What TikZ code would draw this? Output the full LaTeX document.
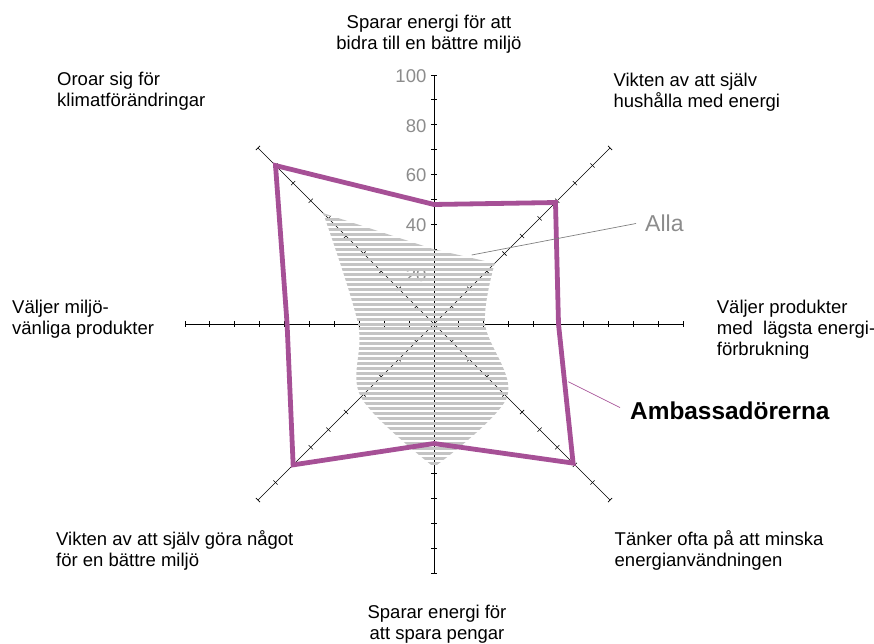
\documentclass[tikz,border=0pt]{standalone}
\usepackage{fontspec}
\setmainfont{Liberation Sans}
\usepackage{tikz}

\definecolor{ambpurple}{RGB}{166,80,150}
\definecolor{tickgray}{RGB}{140,140,140}
\definecolor{hatchgray}{RGB}{196,196,196}
\definecolor{leadgray}{RGB}{128,128,128}

\begin{document}
\begin{tikzpicture}[%
		x=1pt,
		y=1pt,
		font=\fontsize{18.5}{21}\selectfont,
		axis/.style={%
			line width=0.9pt
		},
		diagaxis/.style={%
			line width=0.6pt
		},
		ticklabel/.style={%
			anchor=east,
			inner sep=0pt,
			text=tickgray,
			yshift=-1pt
		},
		stripe/.style={%
			line width=3pt,
			draw=hatchgray
		},
		ambline/.style={%
			line width=4.8pt,
			draw=ambpurple
		},
		catlabel/.style={%
			inner sep=0pt,
			align=left,
			anchor=north west
		}
		]
		\useasboundingbox (-434,-319) rectangle (440,324);
		
		\begin{scope}[x=2.49pt,y=2.49pt]
			% axes with ticks
			\foreach \a in {0,90,180,270} {
				\draw[axis] (0,0) -- (\a:100);
				\foreach \r in {10,20,...,100}
					\draw[axis] (\a:\r) ++(\a+90:1.2) -- ++(\a-90:2.4);
			}
			\foreach \a in {45,135,225,315} {
				\draw[diagaxis] (0,0) -- (\a:100);
				\foreach \r in {10,20,...,100}
					\draw[diagaxis] (\a:\r) ++(\a+90:1.2) -- ++(\a-90:2.4);
			}
			\foreach \v in {20,40,...,100}
				\node[ticklabel] (t\v) at (-3,\v) {\v};
			
			% Alla
			\begin{scope}
				\clip plot[smooth, tension=0.55] coordinates {(45:34.5) (0:20.5) (-45:41.5) (-90:57.5)}
					-- plot[smooth, tension=0.55] coordinates {(-90:57.5) (-135:41.5) (180:30.5) (135:63)}
					-- (90:30) -- cycle;
				\foreach \y in {-60,-58,...,46}
					\draw[stripe] (-50,\y) -- (50,\y);
			\end{scope}
			
			% Ambassadoererna
			\draw[ambline] (90:48) -- (45:69) -- (0:50) -- (-45:79) -- (-90:48)
				-- (-135:80) -- (180:59) -- (135:90) -- cycle;
		\end{scope}
		
		\node[catlabel, anchor=north, align=center] (catn)  at (-5,309)        {Sparar energi för att\\bidra till en bättre miljö};
		\node[catlabel] (catne) at (179.3,250.7)                               {Vikten av att själv\\hushålla med energi};
		\node[catlabel] (cate)  at (282.7,24)                                  {Väljer produkter\\med\ \ lägsta energi-\\förbrukning};
		\node[catlabel] (catse) at (180.5,-206.7)                              {Tänker ofta på att minska\\energianvändningen};
		\node[catlabel, anchor=north, align=center] (cats)  at (3,-281)        {Sparar energi för\\att spara pengar};
		\node[catlabel] (catsw) at (-378,-206.7)                               {Vikten av att själv göra något\\för en bättre miljö};
		\node[catlabel] (catw)  at (-422,24)                                   {Väljer miljö-\\vänliga produkter};
		\node[catlabel] (catnw) at (-377,252)                                  {Oroar sig för\\klimatförändringar};
		
		\node[inner sep=0pt, anchor=base west, text=tickgray, font=\fontsize{23}{26}\selectfont] (alla) at (211,92.3) {Alla};
		\node[inner sep=0pt, anchor=base west, font=\fontsize{24.4}{27}\selectfont\bfseries] (amb) at (196,-95.3) {Ambassadörerna};
		\coordinate (allapt) at (37.7,69);
		\coordinate (ambpt) at (134.3,-57.7);
		
		\draw[leadgray, line width=0.7pt] (allapt) -- ([xshift=-9pt]alla.west);
		\draw[ambpurple, line width=0.7pt] (ambpt) -- ([xshift=-10pt,yshift=3pt]amb.west);
\end{tikzpicture}
\end{document}
